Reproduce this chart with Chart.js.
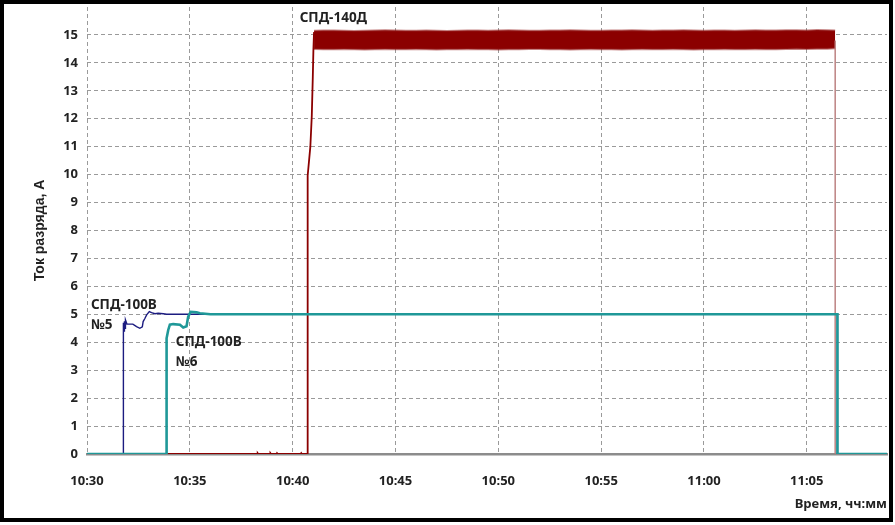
<!DOCTYPE html>
<html>
<head>
<meta charset="utf-8">
<script src="https://cdn.jsdelivr.net/npm/chart.js@4"></script>
<style>
  html, body { margin: 0; padding: 0; background: #fff; }
</style>
</head>
<body>
<canvas id="chart" width="895" height="525"></canvas>
<script>
// time axis in minutes after 10:30
const tickLabels = ['10:30', '10:35', '10:40', '10:45', '10:50', '10:55', '11:00', '11:05'];

// СПД-100В №5
const navyTime = [0, 1.76, 1.76, 1.78, 1.80, 1.82, 1.85, 1.87, 1.94, 2.23, 2.41, 2.57, 2.69, 2.73, 2.82, 2.90, 3.03, 3.14, 3.30, 3.46, 3.71, 3.87, 36.49, 36.49, 38.9];
const navyVal  = [0, 0, 4.0, 4.7, 4.4, 4.75, 4.5, 4.8, 4.65, 4.65, 4.56, 4.5, 4.55, 4.74, 4.86, 4.98, 5.1, 5.06, 5.02, 5.04, 5.02, 5.0, 5.0, 0, 0];

// СПД-100В №6
const tealTime = [0, 3.87, 3.87, 3.95, 4.03, 4.19, 4.52, 4.68, 4.84, 4.92, 5.04, 5.33, 5.49, 6.0, 36.49, 36.49, 38.9];
const tealVal  = [0, 0, 4.14, 4.44, 4.63, 4.65, 4.63, 4.53, 4.57, 4.92, 5.09, 5.07, 5.04, 5.0, 5.0, 0, 0];

// СПД-140Д: start-up and switch-off
const redTime = [0, 8.28, 8.30, 8.33, 8.90, 8.92, 8.95, 9.22, 9.24, 9.27, 10.40, 10.42, 10.45, 10.73, 10.73, 10.86, 10.93, 10.98, 11.01, 11.04];
const redVal  = [0, 0, 0.03, 0, 0, 0.03, 0, 0, 0.03, 0, 0, 0.03, 0, 0, 9.96, 11.0, 12.1, 13.5, 14.5, 15.1];
const redOffTime = [36.38, 36.38, 38.9];
const redOffVal  = [14.8, 0, 0];

// СПД-140Д: noisy band, upper and lower edges
const bandTime = [11.04, 11.5, 12, 12.5, 13, 13.5, 14, 14.5, 15, 15.5, 16, 16.5, 17, 17.5, 18, 18.5, 19, 19.5, 20, 20.5,
  21, 21.5, 22, 22.5, 23, 23.5, 24, 24.5, 25, 25.5, 26, 26.5, 27, 27.5, 28, 28.5, 29, 29.5, 30, 30.5,
  31, 31.5, 32, 32.5, 33, 33.5, 34, 34.5, 35, 35.5, 36, 36.38];
const bandTop = [15.15, 15.16, 15.16, 15.15, 15.14, 15.15, 15.16, 15.17, 15.16, 15.15,
  15.15, 15.16, 15.15, 15.14, 15.15, 15.16, 15.16, 15.15, 15.16, 15.17,
  15.16, 15.15, 15.15, 15.16, 15.16, 15.17, 15.16, 15.15, 15.15, 15.16,
  15.16, 15.17, 15.16, 15.15, 15.16, 15.16, 15.17, 15.16, 15.15, 15.16,
  15.16, 15.15, 15.16, 15.17, 15.16, 15.16, 15.17, 15.17, 15.16, 15.18,
  15.17, 15.16];
const bandBottom = [14.50, 14.49, 14.49, 14.50, 14.49, 14.48, 14.49, 14.50, 14.49, 14.49,
  14.50, 14.49, 14.48, 14.49, 14.49, 14.50, 14.49, 14.49, 14.48, 14.49,
  14.49, 14.50, 14.50, 14.49, 14.49, 14.48, 14.49, 14.50, 14.49, 14.49,
  14.48, 14.49, 14.50, 14.49, 14.49, 14.50, 14.49, 14.48, 14.49, 14.49,
  14.50, 14.49, 14.49, 14.50, 14.49, 14.49, 14.50, 14.51, 14.50, 14.51,
  14.51, 14.52];

const pts = (xs, ys) => xs.map((x, i) => ({ x: x, y: ys[i] }));

const RED = '#8b0000';
const RED_EDGE = 'rgba(150, 30, 30, 0.55)';
const GRID = '#9a9a9a';
const TEXT = '#222';
const tickFont = { family: 'Noto Sans', size: 13, weight: 'bold' };

// curve names written next to the curves (data units)
const curveLabels = [
  { text: 'СПД-140Д', x: 10.34, y: 15.61 },
  { text: 'СПД-100В', x: 0.19, y: 5.33 },
  { text: '№5', x: 0.19, y: 4.62 },
  { text: 'СПД-100В', x: 4.32, y: 4.01 },
  { text: '№6', x: 4.32, y: 3.29 }
];

const labelPlugin = {
  id: 'curveLabels',
  afterDatasetsDraw(chart) {
    const { ctx, scales: { x, y } } = chart;
    ctx.save();
    ctx.font = 'bold 13.5px "Noto Sans"';
    ctx.fillStyle = TEXT;
    ctx.textAlign = 'left';
    ctx.textBaseline = 'middle';
    curveLabels.forEach(l => {
      ctx.fillText(l.text, x.getPixelForValue(l.x), y.getPixelForValue(l.y));
    });
    ctx.restore();
  }
};

const framePlugin = {
  id: 'frame',
  afterDraw(chart) {
    const ctx = chart.ctx;
    ctx.save();
    ctx.strokeStyle = '#000';
    ctx.lineWidth = 4;
    ctx.strokeRect(2, 2, 889, 518);
    ctx.restore();
  }
};

const line = (data, color, width, order) => ({
  data: data, borderColor: color, borderWidth: width, pointRadius: 0,
  tension: 0, fill: false, order: order
});

new Chart(document.getElementById('chart'), {
  type: 'line',
  data: {
    datasets: [
      line(pts(tealTime, tealVal), '#1f9898', 2.6, 0),
      line(pts(navyTime, navyVal), '#1c1c80', 1.4, 1),
      line(pts(redTime, redVal), RED, 1.8, 2),
      line(pts(redOffTime, redOffVal), '#b87a7a', 1.4, 2),
      line(pts(bandTime, bandTop), RED_EDGE, 2, 3),
      Object.assign(line(pts(bandTime, bandBottom), RED_EDGE, 2, 3), { fill: '-1', backgroundColor: RED })
    ]
  },
  options: {
    responsive: false,
    animation: false,
    layout: { padding: { top: 7, right: 8, left: 0, bottom: 0 } },
    plugins: { legend: { display: false }, tooltip: { enabled: false } },
    scales: {
      x: {
        type: 'linear',
        min: 0,
        max: 38.9,
        afterFit: s => { s.height = 71; },
        ticks: {
          stepSize: 5,
          includeBounds: false,
          padding: 19,
          color: TEXT,
          font: tickFont,
          maxRotation: 0,
          callback: v => tickLabels[Math.round(v / 5)]
        },
        grid: { color: GRID, drawTicks: false, lineWidth: 1 },
        border: { display: true, color: '#8c8c8c', width: 2.5, dash: [4, 3] },
        title: {
          display: true,
          text: 'Время, чч:мм',
          align: 'end',
          color: TEXT,
          font: { family: 'Noto Sans', size: 13, weight: 'bold' },
          padding: { bottom: 13 }
        }
      },
      y: {
        min: 0,
        max: 16,
        afterFit: s => { s.width = 87; s.paddingTop = 0; s.paddingBottom = 0; },
        ticks: {
          stepSize: 1,
          padding: 9,
          color: TEXT,
          font: tickFont,
          callback: v => (v === 16 ? null : v)
        },
        grid: {
          drawTicks: false,
          lineWidth: 1,
          color: c => (c.tick && c.tick.value === 16 ? 'rgba(0,0,0,0)' : GRID)
        },
        border: { display: false, dash: [4, 3] },
        title: {
          display: true,
          text: 'Ток разряда, А',
          color: TEXT,
          font: { family: 'Liberation Sans', size: 14, weight: 'bold' },
          padding: { top: 32 }
        }
      }
    }
  },
  plugins: [labelPlugin, framePlugin]
});
</script>
</body>
</html>
